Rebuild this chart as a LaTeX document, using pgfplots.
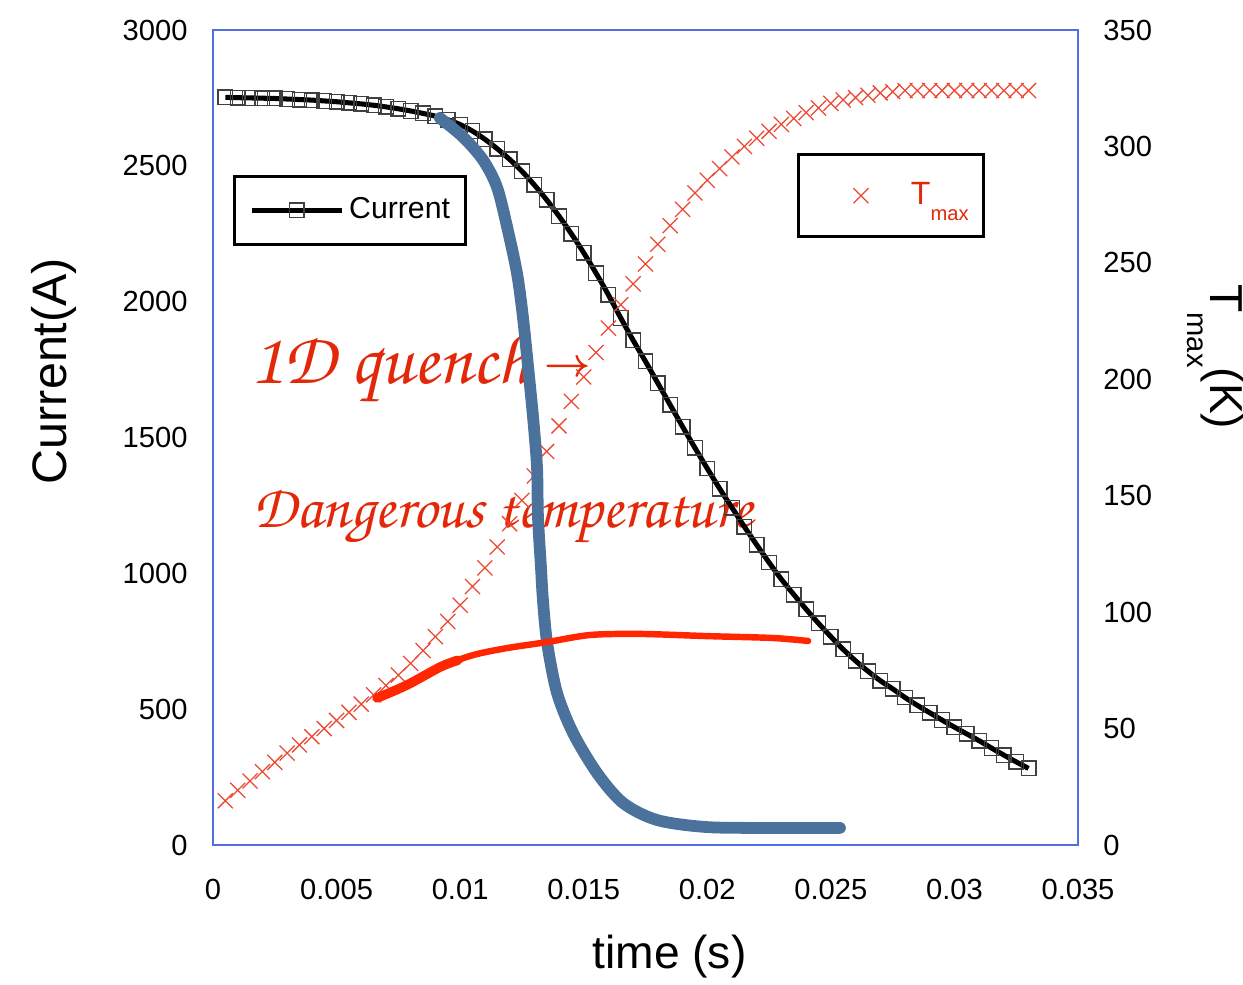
\documentclass[border=0pt]{standalone}
\usepackage{fontspec}
\setmainfont{Liberation Sans}
\newfontfamily\chorus{texgyrechorus-mediumitalic.otf}
\usepackage{amsmath}
\usepackage{graphicx}
\usepackage{pgfplots}
\pgfplotsset{compat=1.18}
\usepackage{pgfplotstable}

\definecolor{framec}{RGB}{80,110,230}
\definecolor{tcol}{RGB}{236,72,52}
\definecolor{annred}{RGB}{226,40,8}
\definecolor{strokered}{RGB}{255,38,0}
\definecolor{strokeblue}{RGB}{74,114,156}

\pgfplotstableread{
t I
0.0005 2752
0.0010 2751
0.0015 2750
0.0020 2749
0.0025 2748
0.0030 2746
0.0035 2744
0.0040 2742
0.0045 2739
0.0050 2736
0.0055 2732
0.0060 2728
0.0065 2723
0.0070 2717
0.0075 2710
0.0080 2702
0.0085 2693
0.0090 2683
0.0095 2670
0.0100 2652
0.0105 2628
0.0110 2598
0.0115 2563
0.0120 2524
0.0125 2480
0.0130 2430
0.0135 2375
0.0140 2315
0.0145 2250
0.0150 2180
0.0155 2105
0.0160 2025
0.0165 1940
0.0170 1858
0.0175 1780
0.0180 1700
0.0185 1620
0.0190 1540
0.0195 1462
0.0200 1386
0.0205 1312
0.0210 1242
0.0215 1172
0.0220 1105
0.0225 1040
0.0230 978
0.0235 922
0.0240 868
0.0245 816
0.0250 767
0.0255 720
0.0260 678
0.0265 640
0.0270 605
0.0275 575
0.0280 543
0.0285 514
0.0290 487
0.0295 460
0.0300 434
0.0305 409
0.0310 384
0.0315 357
0.0320 331
0.0325 306
0.0330 282
}\currenttable

\pgfplotstableread{
t T
0.0005 19
0.0010 23.5
0.0015 27.5
0.0020 31.5
0.0025 35.5
0.0030 39.5
0.0035 43
0.0040 46.5
0.0045 50
0.0050 53.5
0.0055 57
0.0060 60.5
0.0065 64.5
0.0070 68.5
0.0075 73
0.0080 78
0.0085 83.5
0.0090 89.5
0.0095 96
0.0100 103
0.0105 111
0.0110 119
0.0115 128
0.0120 138
0.0125 148
0.0130 158.5
0.0135 169
0.0140 180
0.0145 190.5
0.0150 201
0.0155 211.5
0.0160 222
0.0165 232
0.0170 241
0.0175 249.5
0.0180 258
0.0185 266
0.0190 273
0.0195 280
0.0200 285.5
0.0205 290.5
0.0210 295.5
0.0215 300
0.0220 303.5
0.0225 306.5
0.0230 309.5
0.0235 312
0.0240 314.5
0.0245 316.5
0.0250 318.5
0.0255 320
0.0260 321
0.0265 322
0.0270 323
0.0275 323.5
0.0280 324
0.0285 324
0.0290 324
0.0295 324
0.0300 324
0.0305 324
0.0310 324
0.0315 324
0.0320 324
0.0325 324
0.0330 324
}\temptable

\pgfplotsset{
  common/.style={
    scale only axis, width=308.93pt, height=291.07pt,
    xmin=0, xmax=0.035,
    at={(0,0)}, anchor=south west,
    major tick length=0pt,
    tick label style={font=\fontsize{10.4}{12}\selectfont, inner sep=0pt},
    /pgf/number format/assume math mode=true,
    /pgf/number format/1000 sep={},
    axis line style={draw=framec, line width=0.5pt},
  }
}

\begin{document}
\begin{tikzpicture}
\begin{axis}[common,
  ymin=0, ymax=3000, ytick={0,500,1000,1500,2000,2500,3000},
  xtick={0,0.005,0.01,0.015,0.02,0.025,0.03,0.035},
  xticklabels={0,0.005,0.01,0.015,0.02,0.025,0.03,0.035},
  scaled x ticks=false,
  xticklabel style={anchor=base, yshift=-19.3pt},
  yticklabel style={anchor=east, xshift=-8.9pt},
  xlabel={time (s)}, ylabel={Current(A)},
  every axis x label/.style={at={(rel axis cs:0.5277,-0.1509)}, anchor=base, font=\fontsize{16.5}{20}\selectfont},
  every axis y label/.style={at={(rel axis cs:-0.1688,0.5816)}, anchor=base, rotate=90, font=\fontsize{17.3}{20}\selectfont},
  legend style={at={(rel axis cs:0.0231,0.822)}, anchor=north west, draw=black, line width=1pt,
    inner xsep=5.4pt, inner ysep=7.6pt, column sep=1.8pt, nodes={inner sep=0pt},
    font=\fontsize{10.8}{12}\selectfont},
  legend image code/.code={\path (0pt,0pt) (32pt,0pt); \draw[#1, mark repeat=2, mark phase=2] plot coordinates {(0pt,0pt) (16pt,0pt) (32pt,0pt)};},
  clip=false,
]
\node[anchor=base west, inner sep=0pt, text=annred] at (axis cs:0.0015,1700) {\resizebox{99.6pt}{!}{\chorus 1D quench}};
\node[anchor=center, inner sep=0pt, text=annred] at (axis cs:0.01436,1752) {\fontsize{14}{14}\selectfont$\boldsymbol{\rightarrow}$};
\node[anchor=base west, inner sep=0pt, text=annred] at (axis cs:0.00162,1167) {\resizebox{178.6pt}{!}{\chorus Dangerous temperature}};
\addplot[black, line width=1.8pt, smooth, mark=square, mark size=2.6pt,
  mark options={draw=black!75, line width=0.5pt, solid}] table[x=t, y=I] {\currenttable};
\addlegendentry{Current}
\end{axis}

\begin{axis}[common,
  ymin=0, ymax=350, ytick={0,50,100,150,200,250,300,350},
  hide x axis,
  axis y line*=right,
  yticklabel style={anchor=west, xshift=8.9pt},
  ylabel={T\raisebox{-7.9pt}{\fontsize{10.4}{12}\selectfont max}(K)},
  every axis y label/.style={at={(rel axis cs:1.1526,0.599)}, anchor=base, rotate=-90, font=\fontsize{16.5}{20}\selectfont},
  legend style={at={(rel axis cs:0.675,0.849)}, anchor=north west, draw=black, line width=1pt,
    inner xsep=5.4pt, inner ysep=10pt, column sep=1.8pt, nodes={inner sep=0pt},
    font=\fontsize{11.5}{13}\selectfont},
  legend image code/.code={\path (0pt,0pt) (32pt,0pt); \draw[#1] plot coordinates {(16.5pt,0pt)};},
]
\addplot[only marks, mark=x, mark size=3.8pt, color=tcol, mark options={line width=0.45pt}] table[x=t, y=T] {\temptable};
\addlegendentry{\textcolor{annred}{T\raisebox{-5.7pt}{\fontsize{7.2}{8}\selectfont max}}}
\end{axis}

\begin{axis}[common, hide axis, ymin=0, ymax=3000, clip=false]
\addplot[strokeblue, line width=4.2pt, line cap=round, line join=round, smooth] coordinates {
(0.00918,2676) (0.01012,2606) (0.01093,2521) (0.01149,2422) (0.01190,2275)
(0.01230,2105) (0.01254,1944) (0.01275,1759) (0.01295,1575) (0.01311,1391)
(0.01315,1207) (0.01327,1023) (0.01335,902) (0.01352,744) (0.01392,560)
(0.01457,412) (0.01554,265) (0.01659,155) (0.01797,92) (0.01999,66)
(0.02266,63) (0.02537,63)};
\addplot[strokered, line width=2.3pt, line cap=round, line join=round, smooth] coordinates {
(0.00664,541) (0.00785,589) (0.00919,655) (0.01052,699) (0.01190,725)
(0.01352,747) (0.01525,773) (0.01728,777) (0.01999,769) (0.02266,762) (0.02408,751)};
\addplot[strokered, line width=3.4pt, line cap=round, line join=round, smooth] coordinates {
(0.00664,541) (0.00785,589) (0.00919,655) (0.00990,680)};
\end{axis}

\pgfresetboundingbox
\path (-76.07pt,-49.64pt) rectangle (367.86pt,301.79pt);
\end{tikzpicture}
\end{document}
